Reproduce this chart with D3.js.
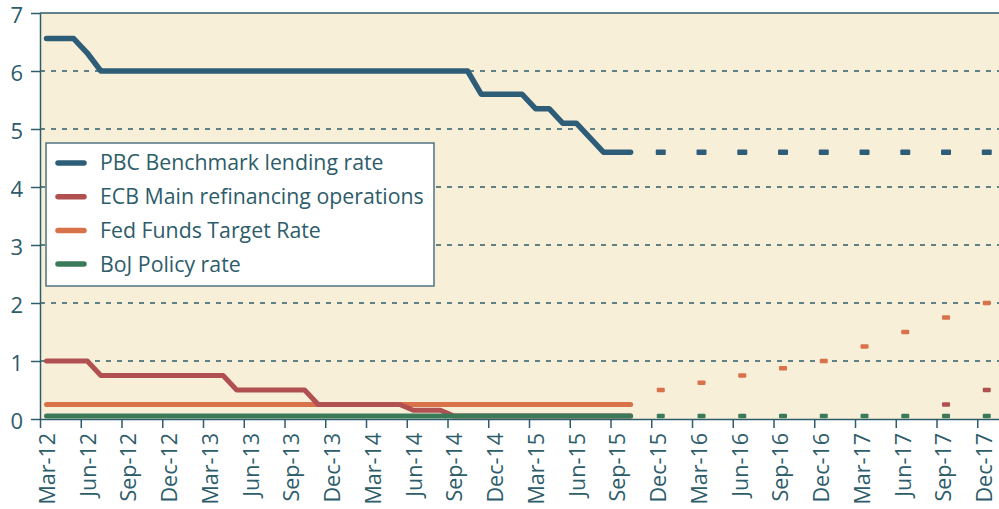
<!DOCTYPE html>
<html>
<head>
<meta charset="utf-8">
<script src="https://cdn.jsdelivr.net/npm/d3@7"></script>
<style>
  body { margin: 0; background: #fff; }
  svg text { font-family: "Open Sans", sans-serif; fill: #2d5c6a; }
</style>
</head>
<body>
<div id="chart"></div>
<script>
// quarterly tick labels (every 3rd month, starting Mar-12)
const tickLabels = ["Mar-12", "Jun-12", "Sep-12", "Dec-12", "Mar-13", "Jun-13", "Sep-13", "Dec-13",
    "Mar-14", "Jun-14", "Sep-14", "Dec-14", "Mar-15", "Jun-15", "Sep-15", "Dec-15",
    "Mar-16", "Jun-16", "Sep-16", "Dec-16", "Mar-17", "Jun-17", "Sep-17", "Dec-17"];

// monthly history, Mar-12 .. Oct-15
const pbcRate = [6.56, 6.56, 6.56, 6.31, 6.00, 6.00, 6.00, 6.00, 6.00, 6.00, 6.00,
    6.00, 6.00, 6.00, 6.00, 6.00, 6.00, 6.00, 6.00, 6.00, 6.00, 6.00, 6.00, 6.00,
    6.00, 6.00, 6.00, 6.00, 6.00, 6.00, 6.00, 6.00, 5.60, 5.60, 5.60, 5.60,
    5.35, 5.35, 5.10, 5.10, 4.85, 4.60, 4.60, 4.60];
const ecbRate = [1.00, 1.00, 1.00, 1.00, 0.75, 0.75, 0.75, 0.75, 0.75, 0.75, 0.75,
    0.75, 0.75, 0.75, 0.50, 0.50, 0.50, 0.50, 0.50, 0.50, 0.25, 0.25, 0.25, 0.25,
    0.25, 0.25, 0.25, 0.15, 0.15, 0.15, 0.05, 0.05, 0.05, 0.05, 0.05, 0.05,
    0.05, 0.05, 0.05, 0.05, 0.05, 0.05, 0.05, 0.05];
const fedRate = [0.25, 0.25, 0.25, 0.25, 0.25, 0.25, 0.25, 0.25, 0.25, 0.25, 0.25,
    0.25, 0.25, 0.25, 0.25, 0.25, 0.25, 0.25, 0.25, 0.25, 0.25, 0.25, 0.25, 0.25,
    0.25, 0.25, 0.25, 0.25, 0.25, 0.25, 0.25, 0.25, 0.25, 0.25, 0.25, 0.25,
    0.25, 0.25, 0.25, 0.25, 0.25, 0.25, 0.25, 0.25];
const bojRate = [0.05, 0.05, 0.05, 0.05, 0.05, 0.05, 0.05, 0.05, 0.05, 0.05, 0.05,
    0.05, 0.05, 0.05, 0.05, 0.05, 0.05, 0.05, 0.05, 0.05, 0.05, 0.05, 0.05, 0.05,
    0.05, 0.05, 0.05, 0.05, 0.05, 0.05, 0.05, 0.05, 0.05, 0.05, 0.05, 0.05,
    0.05, 0.05, 0.05, 0.05, 0.05, 0.05, 0.05, 0.05];

// quarterly projections
const projQuarters = ["Dec-15", "Mar-16", "Jun-16", "Sep-16", "Dec-16", "Mar-17", "Jun-17", "Sep-17", "Dec-17"];
const pbcProj = [4.6, 4.6, 4.6, 4.6, 4.6, 4.6, 4.6, 4.6, 4.6];
const fedProj = [0.5, 0.625, 0.75, 0.875, 1.0, 1.25, 1.5, 1.75, 2.0];
const bojProj = [0.05, 0.05, 0.05, 0.05, 0.05, 0.05, 0.05, 0.05, 0.05];
const ecbProjQuarters = ["Sep-17", "Dec-17"];
const ecbProj = [0.25, 0.5];

const seriesNames = ["PBC Benchmark lending rate", "ECB Main refinancing operations",
    "Fed Funds Target Rate", "BoJ Policy rate"];
const colors = ["#2e5d78", "#b05050", "#d9714a", "#3a7a58"];

const width = 999, height = 509;
const margin = { top: 13, right: 0, bottom: 89, left: 40 };
const axisColor = "#2d5c6a";

const svg = d3.select("#chart").append("svg")
    .attr("width", width)
    .attr("height", height);

const xScale = d3.scaleLinear()
    .domain([0, 70.6])
    .range([margin.left, width - margin.right]);

const yScale = d3.scaleLinear()
    .domain([0, 7])
    .range([height - margin.bottom - 1, margin.top]);

const monthOf = q => tickLabels.indexOf(q) * 3;

// plot background
svg.append("rect")
    .attr("x", xScale(0))
    .attr("y", yScale(7))
    .attr("width", xScale(70.6) - xScale(0))
    .attr("height", yScale(0) - yScale(7))
    .attr("fill", "#f8efd9");

// gridlines
svg.append("g")
    .selectAll("line")
    .data(d3.range(1, 8))
    .join("line")
    .attr("x1", xScale(0))
    .attr("x2", xScale(70.6))
    .attr("y1", d => yScale(d))
    .attr("y2", d => yScale(d))
    .attr("stroke", axisColor)
    .attr("stroke-width", d => d === 7 ? 1.5 : 1.4)
    .attr("stroke-dasharray", d => d === 7 ? null : "5,6");

// y axis
const yAxis = svg.append("g")
    .attr("transform", `translate(${xScale(0)},0)`)
    .call(d3.axisLeft(yScale).tickValues(d3.range(0, 8)).tickFormat(d3.format("d"))
        .tickSize(9).tickSizeOuter(0).tickPadding(8));
yAxis.selectAll("path, line").attr("stroke", axisColor).attr("stroke-width", 1.5);
yAxis.selectAll("text")
    .attr("dy", "0.42em")
    .style("font-size", "22px")
    .attr("fill", axisColor);

// x axis
const xAxis = svg.append("g")
    .attr("transform", `translate(0,${yScale(0)})`)
    .call(d3.axisBottom(xScale)
        .tickValues(tickLabels.map((d, i) => i * 3))
        .tickFormat((d, i) => tickLabels[i])
        .tickSize(9)
        .tickSizeOuter(0));
xAxis.selectAll("path, line").attr("stroke", axisColor).attr("stroke-width", 1.5);
xAxis.selectAll("text")
    .attr("x", 0)
    .attr("y", 0)
    .attr("dy", "0.35em")
    .style("text-anchor", "end")
    .style("font-size", "21.5px")
    .attr("fill", axisColor)
    .attr("transform", `translate(${xScale(0.5) - xScale(0)},14) rotate(-90)`);

// history lines
const line = d3.line()
    .x((d, i) => xScale(i + 0.48))
    .y(d => yScale(d));

const drawOrder = [[pbcRate, 0, 5.5], [fedRate, 2, 5], [ecbRate, 1, 5], [bojRate, 3, 5]];
drawOrder.forEach(([values, c, w]) => {
    svg.append("path")
        .datum(values)
        .attr("fill", "none")
        .attr("stroke", colors[c])
        .attr("stroke-width", w)
        .attr("stroke-linecap", "round")
        .attr("stroke-linejoin", "round")
        .attr("d", line);
});

// projection dashes
const projSets = [
    [projQuarters, pbcProj, 0, 10, 5.5],
    [projQuarters, fedProj, 2, 8, 4.5],
    [ecbProjQuarters, ecbProj, 1, 8, 4.5],
    [projQuarters, bojProj, 3, 8, 4.5]
];
projSets.forEach(([quarters, values, c, w, h]) => {
    svg.append("g")
        .selectAll("rect")
        .data(values)
        .join("rect")
        .attr("x", (d, i) => xScale(monthOf(quarters[i]) + 0.7) - w / 2)
        .attr("y", d => yScale(d) - h / 2)
        .attr("width", w)
        .attr("height", h)
        .attr("rx", 1)
        .attr("fill", colors[c]);
});

// legend
const legend = svg.append("g").attr("transform", "translate(46,143)");
legend.append("rect")
    .attr("width", 388)
    .attr("height", 143)
    .attr("fill", "#fff")
    .attr("stroke", "#4d7480")
    .attr("stroke-width", 1.5);

const rows = legend.selectAll("g.row")
    .data(seriesNames)
    .join("g")
    .attr("class", "row")
    .attr("transform", (d, i) => `translate(0,${20 + i * 33.7})`);
rows.append("line")
    .attr("x1", 12).attr("x2", 38)
    .attr("stroke", (d, i) => colors[i])
    .attr("stroke-width", 5.5)
    .attr("stroke-linecap", "round");
rows.append("text")
    .attr("x", 54)
    .attr("dy", "0.35em")
    .style("font-size", "21.3px")
    .attr("fill", axisColor)
    .text(d => d);
</script>
</body>
</html>
